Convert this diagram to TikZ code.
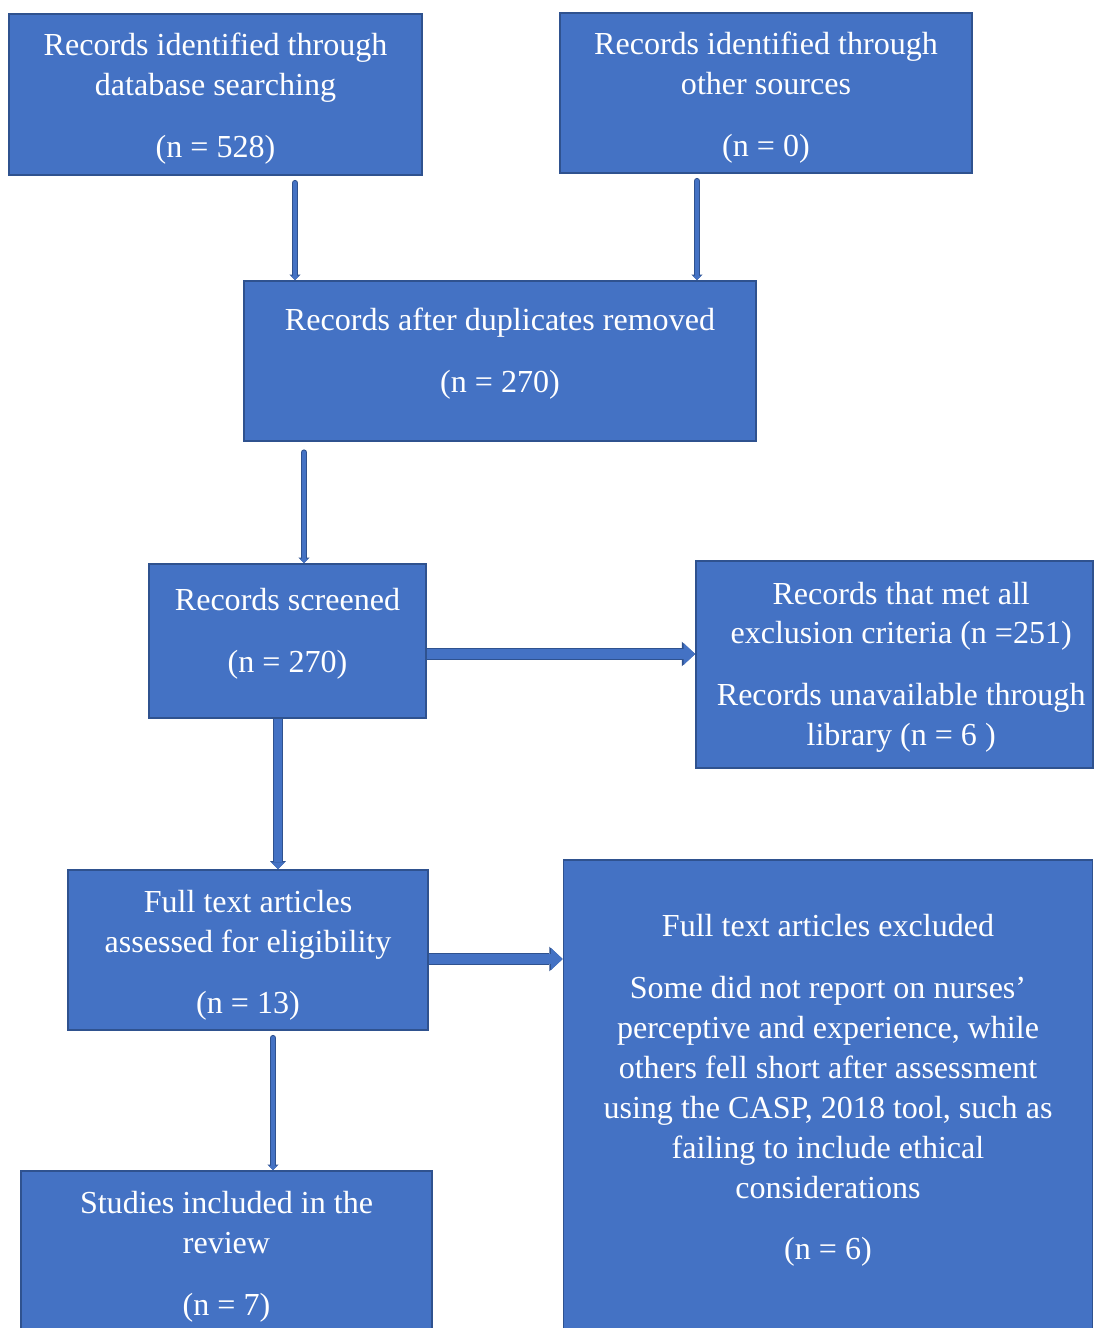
\documentclass[tikz,border=0pt]{standalone}
\usepackage{fontspec}
\setmainfont{Liberation Serif}
\usetikzlibrary{arrows.meta}
\definecolor{boxblue}{HTML}{4472C4}
\definecolor{edgeblue}{HTML}{2F528F}

\begin{document}
\begin{tikzpicture}[x=0.02cm, y=-0.02cm,
    box/.style={draw=edgeblue, fill=boxblue, line width=1pt, inner sep=0pt},
    boxtext/.style={text=white, align=center, inner sep=0pt,
        font=\fontsize{18.25}{22.7}\selectfont},
    thinflow/.style={boxblue, line width=2.2pt, line cap=round,
        -{Triangle[length=2.6pt,width=5pt,line width=0pt]},
        preaction={draw=edgeblue, line width=3.4pt, line cap=round,
        -{Triangle[length=3.2pt,width=6.4pt,line width=0pt]}}},
    wideflow/.style={boxblue, line width=4.3pt,
        -{Triangle[length=3.8pt,width=7.6pt,line width=0pt]},
        preaction={draw=edgeblue, line width=5.6pt,
        -{Triangle[length=4.5pt,width=9pt,line width=0pt]}}},
    bigflow/.style={boxblue, line width=5.4pt,
        -{Triangle[length=6.6pt,width=12.4pt,line width=0pt]},
        preaction={draw=edgeblue, line width=6.8pt,
        -{Triangle[length=7.6pt,width=14pt,line width=0pt]}}}]

    \useasboundingbox (0,0) rectangle (1094,1328);

    % Boxes
    \node[box, minimum width=8.26cm, minimum height=3.22cm,
        label={[boxtext, yshift=-2.3pt]center:{Records identified through\\database searching\\[12.5pt](n = 528)}}]
        (dbsearch) at (215.5,94.5) {};
    \node[box, minimum width=8.24cm, minimum height=3.2cm,
        label={[boxtext, yshift=-2.8pt]center:{Records identified through\\other sources\\[12.5pt](n = 0)}}]
        (othersrc) at (766,93) {};
    \node[box, minimum width=10.24cm, minimum height=3.2cm,
        label={[boxtext, yshift=4pt]center:{Records after duplicates removed\\[12.5pt](n = 270)}}]
        (dedup) at (500,361) {};
    \node[box, minimum width=5.54cm, minimum height=3.08cm,
        label={[boxtext, yshift=4.2pt]center:{Records screened\\[12.5pt](n = 270)}}]
        (screened) at (287.5,641) {};
    \node[box, minimum width=7.94cm, minimum height=4.14cm,
        label={[boxtext, xshift=3.8pt, yshift=-1.5pt]center:{Records that met all\\exclusion criteria (n =251)\\[12.5pt]Records unavailable through\\library (n = 6 )}}]
        (excluded) at (894.5,664.5) {};
    \node[box, minimum width=7.2cm, minimum height=3.2cm,
        label={[boxtext, yshift=-3pt]center:{Full text articles\\assessed for eligibility\\[12.5pt](n = 13)}}]
        (fulltext) at (248,950) {};
    \node[box, minimum width=10.58cm, minimum height=9.4cm,
        label={[boxtext, yshift=2.5pt]center:{Full text articles excluded\\[12.5pt]Some did not report on nurses’\\perceptive and experience, while\\others fell short after assessment\\using the CASP, 2018 tool, such as\\failing to include ethical\\considerations\\[12.5pt](n = 6)}}]
        (reasons) at (828,1095) {};
    \node[box, minimum width=8.22cm, minimum height=3.18cm,
        label={[boxtext, yshift=-3.6pt]center:{Studies included in the\\review\\[12.5pt](n = 7)}}]
        (included) at (226.5,1250.5) {};

    % Arrow lines
    \coordinate (colA) at (295,0);
    \coordinate (colB) at (697,0);
    \coordinate (colC) at (304,0);
    \coordinate (colD) at (278,0);
    \coordinate (colF) at (273,0);
    \coordinate (rowD) at (0,654);
    \coordinate (rowF) at (0,959);

    \draw[thinflow, shorten <=4pt] (dbsearch.south -| colA) -- (dedup.north -| colA);
    \draw[thinflow, shorten <=4pt] (othersrc.south -| colB) -- (dedup.north -| colB);
    \draw[thinflow, shorten <=6pt] (dedup.south -| colC) -- (screened.north -| colC);
    \draw[bigflow] (screened.east |- rowD) -- (excluded.west |- rowD);
    \draw[wideflow] (screened.south -| colD) -- (fulltext.north -| colD);
    \draw[bigflow] (fulltext.east |- rowF) -- (reasons.west |- rowF);
    \draw[thinflow, shorten <=4pt] (fulltext.south -| colF) -- (included.north -| colF);
\end{tikzpicture}
\end{document}
